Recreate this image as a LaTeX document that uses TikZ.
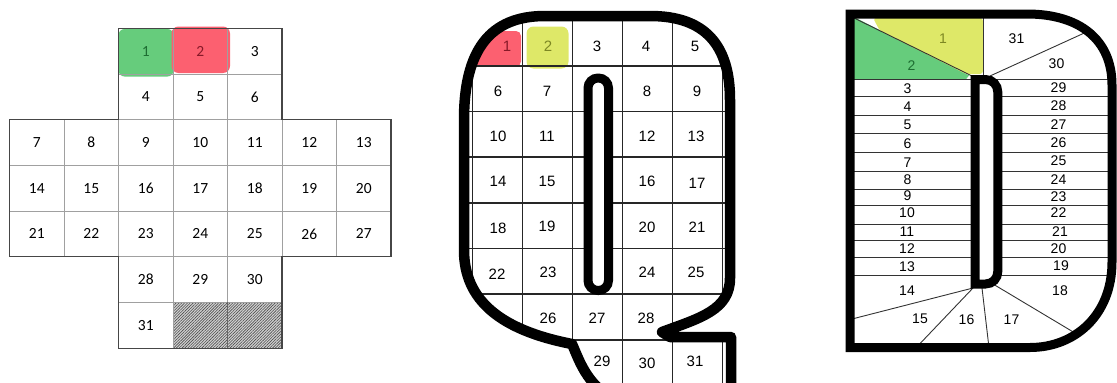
\documentclass[tikz,border=0pt]{standalone}
\usepackage{fontspec}
\setmainfont{Liberation Sans}
\newfontfamily\calib{Carlito}
\usetikzlibrary{patterns.meta}
\definecolor{hlgreen}{RGB}{102,204,124}
\definecolor{hlred}{RGB}{252,96,112}
\definecolor{hlyellow}{RGB}{222,232,104}
\definecolor{gridgray}{RGB}{160,160,160}
\definecolor{borderdark}{RGB}{70,70,70}
\definecolor{dkgreen}{RGB}{30,110,50}
\definecolor{dkred}{RGB}{135,25,40}
\definecolor{olivetxt}{RGB}{125,135,35}
\begin{document}
\begin{tikzpicture}[x=1pt,y=-1pt,
  lgcell/.style={draw=gridgray, line width=0.8pt, minimum width=54.5pt, minimum height=45.7pt, inner sep=0pt, font=\calib\fontsize{15.5}{18}\selectfont},
  hatchcell/.style={lgcell, preaction={fill=gray!35}, pattern={Lines[angle=45,distance=2pt,line width=0.6pt]}, pattern color=black!70},
  qlab/.style={inner sep=0pt, font=\fontsize{15}{18}\selectfont},
  dlab/.style={inner sep=0pt, font=\fontsize{14}{16}\selectfont},
  qgrid/.style={line width=1.6pt, black!85},
  dline/.style={line width=0.9pt, black!80},
  thickout/.style={line width=10.5pt, black, line join=round},
  qshape/.style={insert path={(464,250) -- (464,120) .. controls (464,50) and (490,16) .. (545,16) -- (650,16) .. controls (705,16) and (730,45) .. (730,100) -- (730,278) .. controls (730,310) and (700,318) .. (662,332) -- (670,337) -- (731,337) -- (731,405) -- (625,405) .. controls (588,390) and (580,362) .. (572,344) .. controls (500,330) and (464,300) .. (464,250) -- cycle}},
  dshape/.style={insert path={(850,14) -- (1027,14) .. controls (1080,14) and (1112,40) .. (1112,85) -- (1112,262) .. controls (1112,315) and (1075,347.5) .. (1030,347.5) -- (850,347.5) -- cycle}},
]
\useasboundingbox (0,0) rectangle (1117,383);
\clip (0,0) rectangle (1117,383);

% ---------------- left grid ----------------
\fill[hlgreen, rounded corners=6pt] (118.5,29) rectangle (173.5,76.5);
\fill[hlred, rounded corners=7pt] (171.5,26.5) rectangle (230,73);
\node[lgcell, text=dkgreen] (L1) at (145.75,51.15) {1};
\node[lgcell, text=dkred] (L2) at (200.25,51.15) {2};
\foreach \c/\r/\t in {4/0/3, 2/1/4, 3/1/5, 4/1/6,
  0/2/7, 1/2/8, 2/2/9, 3/2/10, 4/2/11, 5/2/12, 6/2/13,
  0/3/14, 1/3/15, 2/3/16, 3/3/17, 4/3/18, 5/3/19, 6/3/20,
  0/4/21, 1/4/22, 2/4/23, 3/4/24, 4/4/25, 5/4/26, 6/4/27,
  2/5/28, 3/5/29, 4/5/30, 2/6/31}
  \node[lgcell] (L\t) at ({36.75+54.5*\c},{51.15+45.7*\r}) {\t};
\node[hatchcell] (H1) at (200.25,325.35) {};
\node[hatchcell] (H2) at (254.75,325.35) {};
\draw[black!60, line width=0.9pt] (H1.north east) -- (H1.south east);
\draw[borderdark, line width=1.1pt] (118.5,28.3) -- (282,28.3) -- (282,119.7) -- (391,119.7) -- (391,256.8) -- (282,256.8) -- (282,348.2) -- (118.5,348.2) -- (118.5,256.8) -- (9.5,256.8) -- (9.5,119.7) -- (118.5,119.7) -- cycle;

% ---------------- Q ----------------
\begin{scope}
  \path[clip, qshape];
  \fill[hlred, rounded corners=5pt] (460,31) -- (521,31) -- (521,66.5) -- (460,66.5) -- cycle;
  \fill[hlyellow, rounded corners=7pt] (526.5,26.5) rectangle (568.5,68.5);
  \foreach \x in {472.5,522.5,572.5,622.5,672.5,722.5}
    \draw[qgrid] (\x,0) -- (\x,400);
  \foreach \y in {20,65.7,111.4,157.1,202.8,248.5,294.2,340}
    \draw[qgrid] (440,\y) -- (760,\y);
\end{scope}
\draw[line width=9pt, black, fill=white, rounded corners=10pt] (588,78) rectangle (608.5,290.5);
\draw[thickout, qshape];
\node[qlab, text=dkred] (Q1) at (507,46) {1};
\node[qlab, text=olivetxt] (Q2) at (548,46) {2};
\foreach \n/\x/\y in {3/597/46, 4/646/46.5, 5/695/46.5,
  6/498/91.5, 7/547/91.5, 8/647/91.5, 9/697/91,
  10/498/136.5, 11/547/136.5, 12/647/136.5, 13/696/136.5,
  14/498/181.5, 15/547/181.5, 16/647/181.5, 17/697/183,
  18/498/228.5, 19/547/226, 20/647/227, 21/697/227,
  22/497/274, 23/548/272, 24/647/272.5, 25/696/272,
  26/548/318, 27/597/318, 28/646/318,
  29/602/361.5, 30/647/363, 31/695/361.5}
  \node[qlab] (Q\n) at (\x,\y) {\n};

% ---------------- D ----------------
\begin{scope}
  \path[clip, dshape];
  \fill[hlgreen] (850,15) -- (969,75.5) -- (966,79.3) -- (850,79.3) -- cycle;
  \fill[hlyellow, rounded corners=3pt] (873,18) -- (983,18) -- (983,74) -- (966,74) -- (880,31) -- cycle;
  \draw[dline] (852,17) -- (972,76);
  \draw[dline] (983,10) -- (983,76);
  \draw[dline] (990,76) -- (1092,29.5);
  \foreach \y in {79.3,96.7,115,133.3,152.3,171.7,189,205,224,240.7,257.3,275} {
    \draw[dline] (845,\y) -- (976,\y);
    \draw[dline] (996,\y) -- (1120,\y);
  }
  \draw[dline] (973,288) -- (845,320.8);
  \draw[dline] (973,288) -- (912,352);
  \draw[dline] (982,288) -- (989.5,352);
  \draw[dline] (993,284) -- (1090,342);
\end{scope}
\draw[line width=9pt, black, fill=white] (975,79.5) -- (985.5,79.5) .. controls (992.5,79.5) and (997.8,85) .. (997.8,92) -- (997.8,271.5) .. controls (997.8,278.5) and (992.5,284) .. (985.5,284) -- (975,284) -- cycle;
\draw[line width=9pt, black, line join=miter, dshape];
\node[dlab, text=olivetxt] (D1) at (943,38.5) {1};
\node[dlab, text=dkgreen] (D2) at (911.5,65.5) {2};
\foreach \n/\x/\y in {31/1016.5/38.3, 30/1056.5/63.5,
  3/907.5/88.3, 4/907.5/106.7, 5/907.5/125, 6/907.5/143.3, 7/907.5/162.3, 8/907.5/180,
  9/907.5/196, 10/907/212.7, 11/907/231.7, 12/907/248.3, 13/907/266.5, 14/907/290.5,
  29/1058.5/88, 28/1058.5/106, 27/1058.5/125, 26/1058.5/142.3, 25/1058.5/161, 24/1058.5/180,
  23/1058.5/196.7, 22/1058.5/212.7, 21/1060/231.7, 20/1058.5/248.3, 19/1061/265.7, 18/1060/290.7,
  15/920/318.3, 16/966.5/319.3, 17/1011.5/319.3}
  \node[dlab] (D\n) at (\x,\y) {\n};
\end{tikzpicture}
\end{document}
